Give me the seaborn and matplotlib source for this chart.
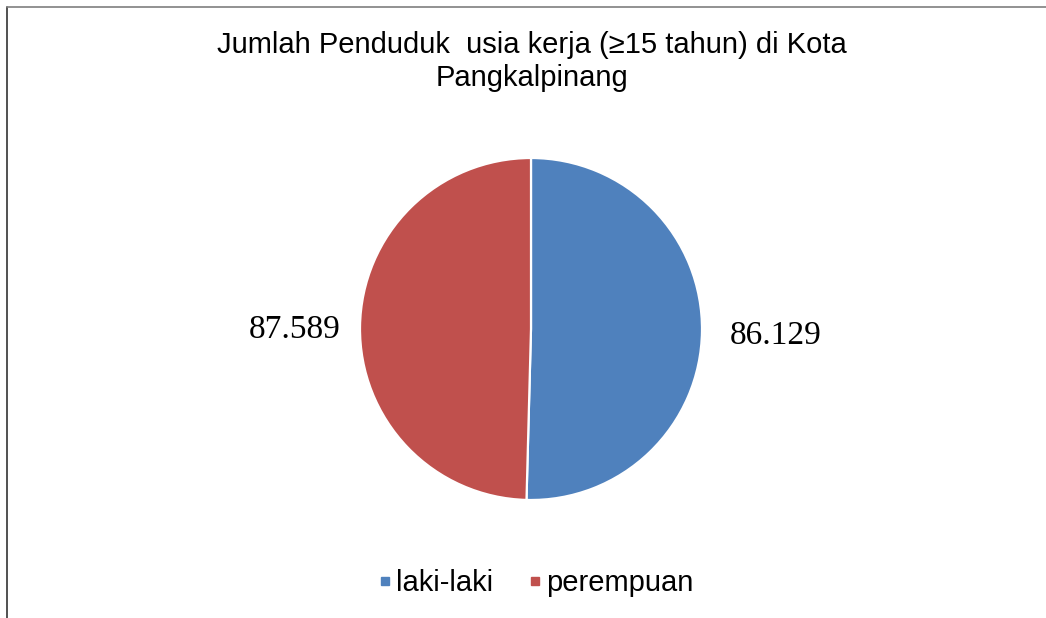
import matplotlib
matplotlib.use("Agg")
import numpy as np
import matplotlib.pyplot as plt
from matplotlib.lines import Line2D
import seaborn as sns

# data
categories = ["laki-laki", "perempuan"]
# wedge sizes as drawn (blue wedge is slightly more than half the pie)
wedge_values = [87589, 86129]
# data label text as printed next to each wedge
value_labels = ["86.129", "87.589"]
title = "Jumlah Penduduk  usia kerja (\u226515 tahun) di Kota\nPangkalpinang"

sns.set_style("white")
plt.rcParams['font.family'] = ['Liberation Sans', 'DejaVu Sans']
plt.rcParams['text.color'] = 'black'
colors = sns.color_palette(["#4F81BD", "#C0504D"])

W, H = 1046, 618
fig = plt.figure(figsize=(W / 100, H / 100), dpi=100)
fig.patch.set_facecolor("white")

# pie axes: centre (531, 329) px, radius 171 px
cx, cy, r = 531, 329, 171
ax = fig.add_axes([(cx - r) / W, (H - cy - r) / H, 2 * r / W, 2 * r / H])
wedges, texts = ax.pie(wedge_values, labels=value_labels, colors=colors,
                       startangle=90, counterclock=False, labeldistance=1.41,
                       wedgeprops={'edgecolor': 'white', 'linewidth': 1.6},
                       textprops={'fontsize': 24, 'family': 'Liberation Serif',
                                  'color': 'black'})
# label distances differ a little on each side in the original
for t, w, d in zip(texts, wedges, [1.43, 1.385]):
    ang = np.deg2rad((w.theta1 + w.theta2) / 2)
    t.set_position((d * np.cos(ang), d * np.sin(ang) - 4 / r))
    t.set_ha('center')
    t.set_va('center')
ax.set_xlim(-1, 1)
ax.set_ylim(-1, 1)
ax.set_aspect('equal')
ax.axis('off')

fig.text(532 / W, 1 - 31 / H, title, ha='center', va='top', fontsize=21,
         linespacing=1.22, color='black')

handles = [Line2D([], [], marker='s', linestyle='none', markersize=6,
                  markerfacecolor=c, markeredgecolor=c) for c in colors]
fig.legend(handles, categories, loc='center', bbox_to_anchor=(535.5 / W, 1 - 583 / H),
           ncol=2, frameon=False, fontsize=21, handletextpad=0.15,
           columnspacing=1.17, handlelength=0.5, labelcolor='black')

# chart border (only left and top edges visible in the crop)
fig.add_artist(Line2D([7 / W, 7 / W], [0, 1 - 7 / H], color='#333333', lw=1.2))
fig.add_artist(Line2D([7 / W, 1], [1 - 7 / H, 1 - 7 / H], color='#7f7f7f', lw=1.2))

fig.savefig("out.png", dpi=100)
